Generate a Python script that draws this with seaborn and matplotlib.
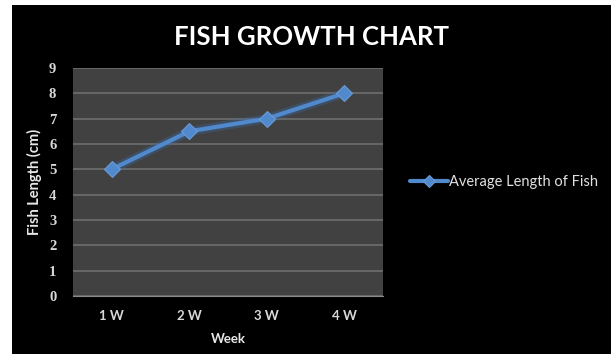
import matplotlib
matplotlib.use("Agg")
import matplotlib.pyplot as plt
from matplotlib.patches import Rectangle
import seaborn as sns
import pandas as pd

weeks = ["1 W", "2 W", "3 W", "4 W"]
lengths = [5.0, 6.5, 7.0, 8.0]
series_name = "Average Length of Fish"
title = "FISH GROWTH CHART"
x_label = "Week"
y_label = "Fish Length (cm)"
y_ticks = list(range(0, 10))

df = pd.DataFrame({"Week": weeks, "Length": lengths, "Series": series_name})

sns.set_style("dark")
plt.rcParams["font.family"] = ["Lato", "DejaVu Sans"]

W, H = 611, 354
fig = plt.figure(figsize=(W / 100, H / 100), dpi=100)
fig.patch.set_facecolor("white")
fig.patches.append(Rectangle((12 / W, 0), 1 - 12 / W, 1 - 5 / H,
                             transform=fig.transFigure, facecolor="black",
                             edgecolor="none", zorder=-10))

ax = fig.add_axes([73 / W, 1 - 296 / H, (383 - 73) / W, (296 - 68) / H])
ax.set_facecolor("#414141")

line_color = "#5089cc"
# glow
sns.lineplot(data=df, x="Week", y="Length", ax=ax, color="#3a6aa8",
             linewidth=6.5, alpha=0.35, legend=False, sort=False)
sns.lineplot(data=df, x="Week", y="Length", hue="Series", ax=ax,
             palette=[line_color], linewidth=3, marker="D", markersize=8,
             markeredgecolor="#6a9ad6", markeredgewidth=0.8, sort=False)

ax.set_xlim(-0.5, 3.5)
ax.set_ylim(0, 9)
ax.set_yticks(y_ticks)
ax.set_yticklabels([str(t) for t in y_ticks], family="Liberation Serif",
                   fontsize=10.5, color="#d8d8d8", fontweight="bold")
ax.set_xticks(range(len(weeks)))
ax.set_xticklabels(weeks, fontsize=9.5, color="#d8d8d8", fontweight="bold")
ax.tick_params(axis="x", length=0, pad=10)
ax.tick_params(axis="y", length=0, pad=12)
ax.grid(axis="y", color="#6e6e6e", linewidth=1.2)
ax.grid(axis="x", visible=False)
ax.set_axisbelow(True)
for s in ax.spines.values():
    s.set_visible(False)
ax.spines["bottom"].set_visible(True)
ax.spines["bottom"].set_color("#8a8a8a")
ax.set_xticks([0.5, 1.5, 2.5, 3.5], minor=True)
ax.tick_params(axis="x", which="minor", length=4, color="#8a8a8a", width=1)

ax.set_xlabel(x_label, fontsize=9.5, fontweight="bold", color="#e8e8e8", labelpad=8)
ax.set_ylabel(y_label, fontsize=10.5, fontweight="bold", color="#e8e8e8", labelpad=5)

fig.text(311 / W, 1 - 37 / H, title, ha="center", va="center",
         fontsize=18.5, fontweight="bold", color="white")

leg = ax.legend(loc="center left", bbox_to_anchor=(410 / W, 1 - 182 / H),
                bbox_transform=fig.transFigure, frameon=False,
                handlelength=2.6, handletextpad=0.05, fontsize=10.5,
                borderpad=0, borderaxespad=0)
for t in leg.get_texts():
    t.set_color("#e0e0e0")
for h in leg.legend_handles:
    h.set_markersize(6)

fig.savefig("out.png", dpi=100, facecolor=fig.get_facecolor())
